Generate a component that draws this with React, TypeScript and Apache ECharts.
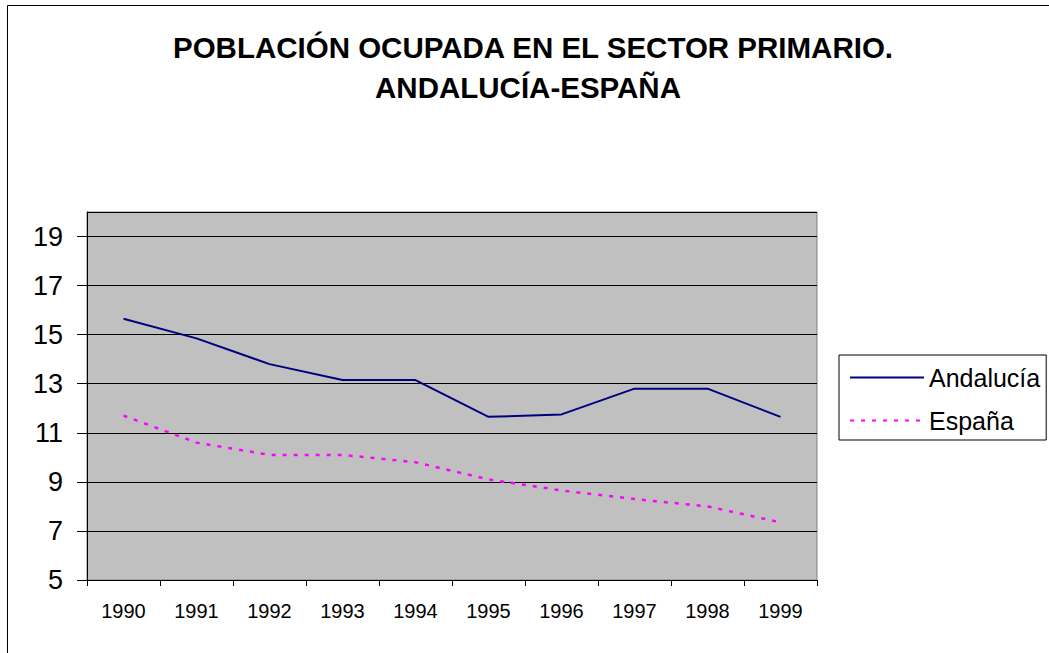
import React, { useEffect, useRef } from "react";
import * as echarts from "echarts";

const years = ["1990", "1991", "1992", "1993", "1994", "1995", "1996", "1997", "1998", "1999"];
const andalucia = [15.65, 14.85, 13.8, 13.15, 13.15, 11.65, 11.75, 12.8, 12.8, 11.65];
const espana = [11.7, 10.6, 10.1, 10.1, 9.8, 9.1, 8.65, 8.3, 8.0, 7.35];
const titleLines = ["POBLACIÓN OCUPADA EN EL SECTOR PRIMARIO.", "ANDALUCÍA-ESPAÑA"];
const seriesNames = ["Andalucía", "España"];

const FONT = '"Liberation Sans", Arial, Helvetica, sans-serif';

export default function App() {
  const ref = useRef<HTMLDivElement>(null);
  useEffect(() => {
    if (!ref.current) return;
    const chart = echarts.init(ref.current, null, { renderer: "svg" });
    chart.setOption({
      animation: false,
      backgroundColor: "#ffffff",
      textStyle: { fontFamily: FONT },
      graphic: [
        {
          type: "rect",
          shape: { x: 7.5, y: 5.5, width: 1100, height: 700 },
          style: { fill: "none", stroke: "#000000", lineWidth: 1 },
          silent: true,
        },
        {
          type: "text",
          x: 533,
          y: 47,
          style: {
            text: titleLines[0],
            fontFamily: FONT,
            fontSize: 29.5,
            fontWeight: "bold",
            fill: "#000000",
            align: "center",
            verticalAlign: "middle",
          },
        },
        {
          type: "text",
          x: 528,
          y: 87,
          style: {
            text: titleLines[1],
            fontFamily: FONT,
            fontSize: 29.5,
            fontWeight: "bold",
            fill: "#000000",
            align: "center",
            verticalAlign: "middle",
          },
        },
      ],
      legend: {
        orient: "vertical",
        left: 839,
        top: 355,
        padding: [10, 6, 7, 10],
        itemGap: 18,
        itemWidth: 74,
        itemHeight: 14,
        borderColor: "#000000",
        borderWidth: 1,
        backgroundColor: "#ffffff",
        itemStyle: { opacity: 0 },
        textStyle: { fontFamily: FONT, fontSize: 25, color: "#000000" },
        data: seriesNames,
      },
      grid: {
        left: 87,
        top: 212,
        right: 232,
        bottom: 73,
        show: true,
        backgroundColor: "#c0c0c0",
        borderColor: "#808080",
        borderWidth: 1,
        containLabel: false,
      },
      xAxis: {
        type: "category",
        data: years,
        boundaryGap: true,
        axisLine: { lineStyle: { color: "#000000", width: 1 } },
        axisTick: { show: true, length: 6, lineStyle: { color: "#000000" } },
        axisLabel: { fontFamily: FONT, fontSize: 20, color: "#000000", margin: 21 },
        splitLine: { show: false },
      },
      yAxis: {
        type: "value",
        min: 5,
        max: 20,
        interval: 2,
        axisLine: { show: true, lineStyle: { color: "#000000", width: 1 } },
        axisTick: { show: true, length: 10, lineStyle: { color: "#000000" } },
        axisLabel: {
          fontFamily: FONT,
          fontSize: 27,
          color: "#000000",
          margin: 24,
          showMaxLabel: false,
        },
        splitLine: { show: true, lineStyle: { color: "#000000", width: 1 } },
      },
      series: [
        {
          name: seriesNames[0],
          type: "line",
          data: andalucia,
          symbol: "none",
          lineStyle: { color: "#000080", width: 2, type: "solid" },
          itemStyle: { color: "#000080" },
        },
        {
          name: seriesNames[1],
          type: "line",
          data: espana,
          symbol: "none",
          lineStyle: { color: "#ff00ff", width: 2.5, type: [4, 7] },
          itemStyle: { color: "#ff00ff" },
        },
      ],
    });
    return () => chart.dispose();
  }, []);
  return (
    <div
      ref={ref}
      style={{ position: "fixed", left: 0, top: 0, width: 1049, height: 653 }}
    />
  );
}
